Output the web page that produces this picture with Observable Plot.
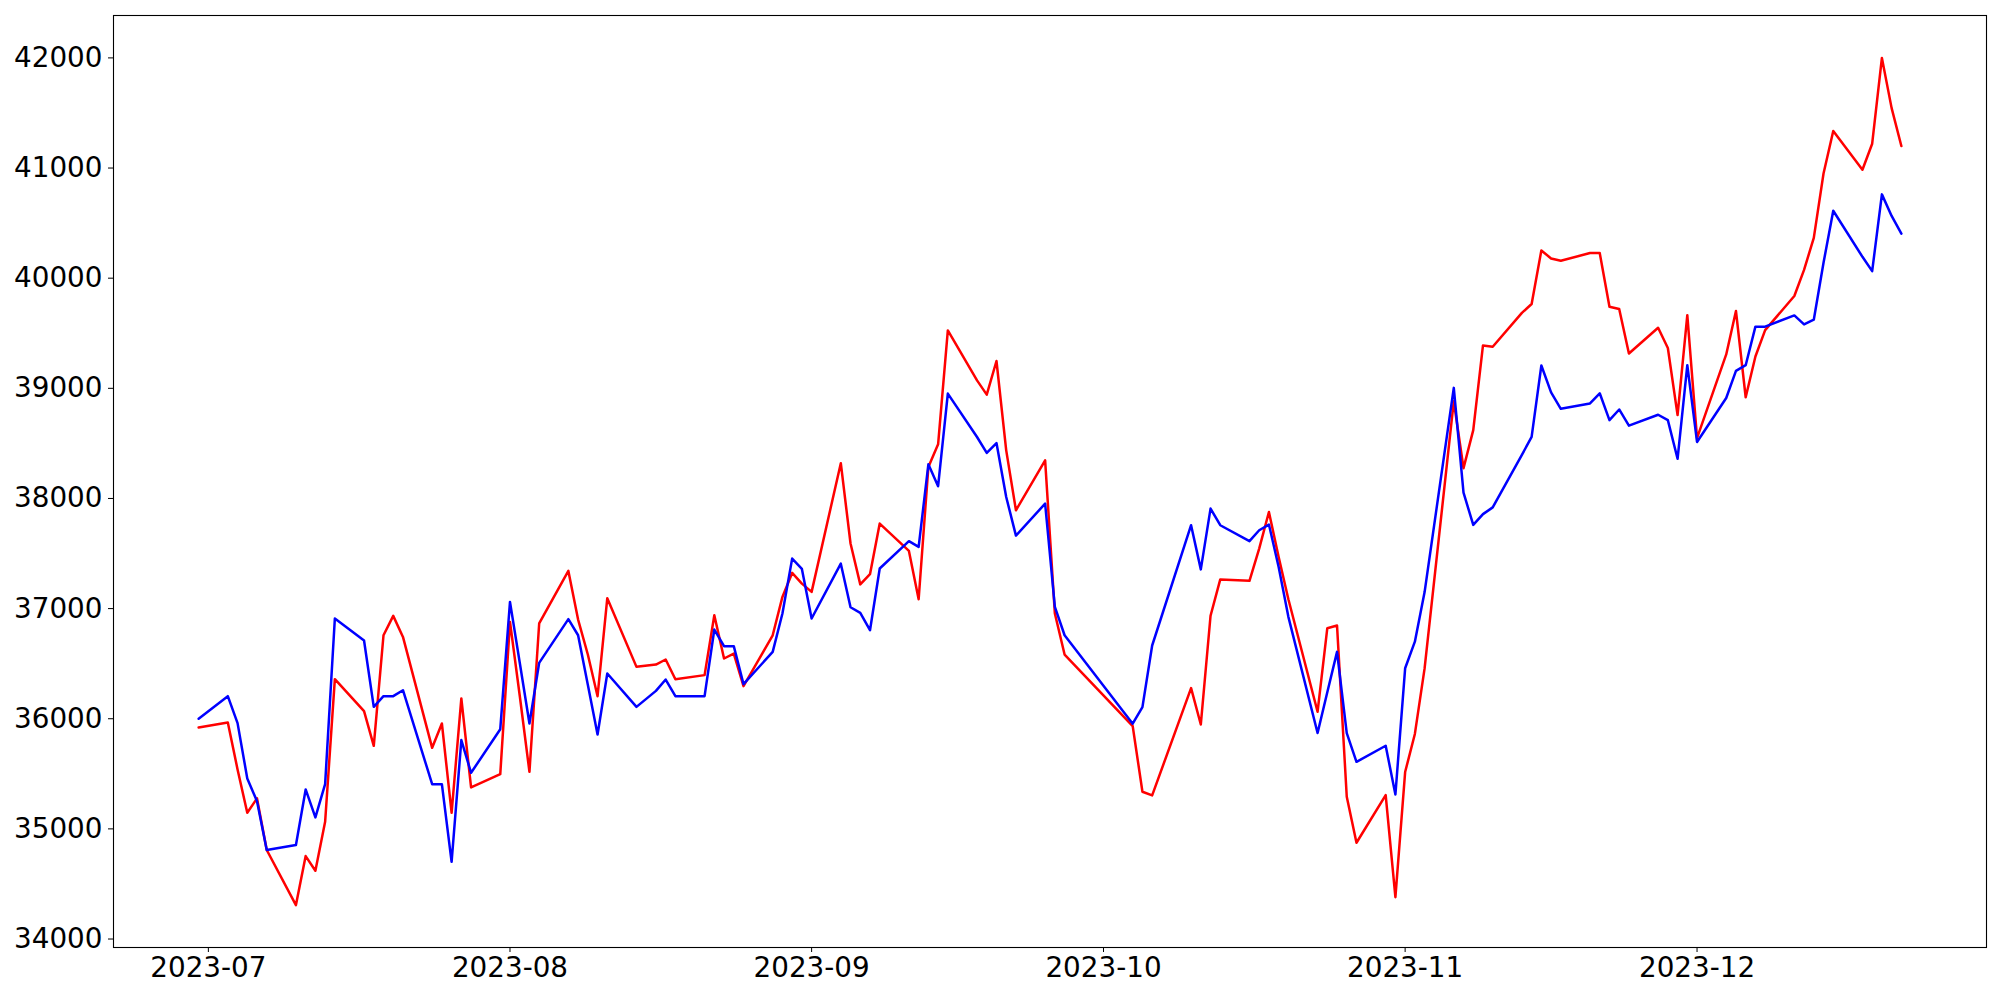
<!DOCTYPE html>
<html>
<head>
<meta charset="utf-8">
<script src="https://cdn.jsdelivr.net/npm/d3@7"></script>
<script src="https://cdn.jsdelivr.net/npm/@observablehq/plot@0.6"></script>
<style>
  html, body { margin: 0; padding: 0; background: #ffffff; }
  #chart { width: 2000px; height: 1000px; }
</style>
</head>
<body>
<div id="chart"></div>
<script>
// Trading dates (weekdays; Aug 15, Sep 28-29, Oct 2-3, Oct 9 absent)
const dates = [
  "2023-06-30","2023-07-03","2023-07-04","2023-07-05","2023-07-06","2023-07-07",
  "2023-07-10","2023-07-11","2023-07-12","2023-07-13","2023-07-14",
  "2023-07-17","2023-07-18","2023-07-19","2023-07-20","2023-07-21",
  "2023-07-24","2023-07-25","2023-07-26","2023-07-27","2023-07-28",
  "2023-07-31","2023-08-01","2023-08-02","2023-08-03","2023-08-04",
  "2023-08-07","2023-08-08","2023-08-09","2023-08-10","2023-08-11",
  "2023-08-14","2023-08-16","2023-08-17","2023-08-18",
  "2023-08-21","2023-08-22","2023-08-23","2023-08-24","2023-08-25",
  "2023-08-28","2023-08-29","2023-08-30","2023-08-31","2023-09-01",
  "2023-09-04","2023-09-05","2023-09-06","2023-09-07","2023-09-08",
  "2023-09-11","2023-09-12","2023-09-13","2023-09-14","2023-09-15",
  "2023-09-18","2023-09-19","2023-09-20","2023-09-21","2023-09-22",
  "2023-09-25","2023-09-26","2023-09-27",
  "2023-10-04","2023-10-05","2023-10-06",
  "2023-10-10","2023-10-11","2023-10-12","2023-10-13",
  "2023-10-16","2023-10-17","2023-10-18","2023-10-19","2023-10-20",
  "2023-10-23","2023-10-24","2023-10-25","2023-10-26","2023-10-27",
  "2023-10-30","2023-10-31","2023-11-01","2023-11-02","2023-11-03",
  "2023-11-06","2023-11-07","2023-11-08","2023-11-09","2023-11-10",
  "2023-11-13","2023-11-14","2023-11-15","2023-11-16","2023-11-17",
  "2023-11-20","2023-11-21","2023-11-22","2023-11-23","2023-11-24",
  "2023-11-27","2023-11-28","2023-11-29","2023-11-30","2023-12-01",
  "2023-12-04","2023-12-05","2023-12-06","2023-12-07","2023-12-08",
  "2023-12-11","2023-12-12","2023-12-13","2023-12-14","2023-12-15",
  "2023-12-18","2023-12-19","2023-12-20","2023-12-21","2023-12-22"
];

// Blue series
const blueValues = [
  36000,36205,35960,35458,35250,34808,
  34853,35358,35104,35406,36910,
  36710,36108,36205,36205,36259,
  35406,35406,34701,35806,35509,
  35905,37061,36511,35957,36507,
  36904,36758,36308,35857,36411,
  36108,36253,36356,36205,
  36205,36810,36659,36659,36314,
  36607,36955,37454,37360,36910,
  37408,37012,36961,36804,37364,
  37612,37560,38310,38111,38952,
  38558,38413,38503,38013,37663,
  37953,37015,36758,
  35955,36105,36665,
  37757,37356,37908,37757,
  37612,37711,37763,37378,36925,
  35870,36240,36607,35870,35609,
  35755,35312,36458,36700,37150,
  39004,38052,37760,37858,37919,
  38396,38559,39207,38963,38814,
  38863,38955,38711,38808,38661,
  38760,38711,38360,39210,38513,
  38912,39158,39210,39560,39560,
  39662,39580,39623,40140,40612,
  40194,40064,40761,40565,40404
];

// Red series
const redValues = [
  35920,35965,35540,35146,35277,34808,
  34308,34753,34620,35064,36359,
  36069,35754,36758,36934,36743,
  35736,35957,35146,36184,35376,
  35497,36879,36211,35518,36865,
  37342,36900,36583,36205,37095,
  36471,36492,36538,36359,
  36396,36940,36547,36592,36296,
  36758,37106,37324,37227,37152,
  38320,37591,37220,37312,37772,
  37524,37085,38286,38492,39526,
  39072,38943,39248,38437,37893,
  38346,36955,36583,
  35933,35337,35304,
  36278,35948,36935,37265,
  37252,37545,37877,37469,37085,
  36063,36822,36846,35291,34874,
  35307,34380,35516,35862,36457,
  38883,38275,38620,39389,39377,
  39685,39766,40252,40179,40159,
  40228,40228,39741,39721,39316,
  39550,39366,38757,39664,38548,
  39308,39702,38919,39289,39528,
  39838,40075,40366,40950,41336,
  40985,41221,42000,41544,41200
];

// Axis tick values
const xTickDates = ["2023-07-01","2023-08-01","2023-09-01","2023-10-01","2023-11-01","2023-12-01"];
const yTickValues = [34000,35000,36000,37000,38000,39000,40000,41000,42000];

const data = dates.map((d, i) => ({
  date: new Date(d + "T00:00:00Z"),
  blue: blueValues[i],
  red: redValues[i]
}));

const fmtMonth = d3.utcFormat("%Y-%m");

const chart = Plot.plot({
  width: 2000,
  height: 1000,
  marginLeft: 113,
  marginRight: 14,
  marginTop: 15,
  marginBottom: 53,
  style: {
    fontFamily: "'DejaVu Sans', sans-serif",
    fontSize: "27.8px",
    color: "#000000",
    background: "#ffffff",
    overflow: "visible"
  },
  x: {
    type: "utc",
    domain: [new Date("2023-06-21T06:00:00Z"), new Date("2023-12-30T18:00:00Z")],
    axis: null
  },
  y: {
    domain: [33923, 42385],
    axis: null
  },
  marks: [
    Plot.line(data, {x: "date", y: "red", stroke: "#ff0000", strokeWidth: 2.5}),
    Plot.line(data, {x: "date", y: "blue", stroke: "#0000ff", strokeWidth: 2.5}),
    Plot.frame({stroke: "#000000", strokeWidth: 1.1}),
    Plot.axisX({
      ticks: xTickDates.map(d => new Date(d + "T00:00:00Z")),
      tickFormat: fmtMonth,
      tickSize: 5,
      tickPadding: 5,
      fontSize: 27.8,
      stroke: "#000000",
      fill: "#000000"
    }),
    Plot.axisY({
      ticks: yTickValues,
      tickFormat: d => String(d),
      tickSize: 5,
      tickPadding: 6,
      fontSize: 27.8,
      stroke: "#000000",
      fill: "#000000"
    })
  ]
});

document.getElementById("chart").appendChild(chart);
</script>
</body>
</html>
